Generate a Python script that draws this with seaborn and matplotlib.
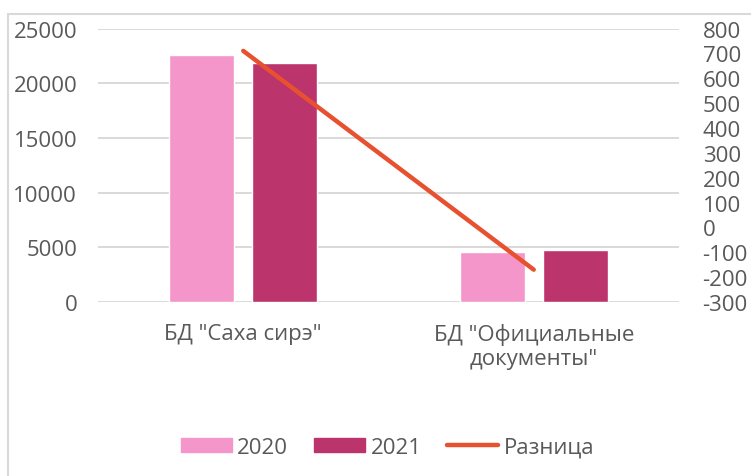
import numpy as np
import pandas as pd
import matplotlib
matplotlib.use('Agg')
import matplotlib.pyplot as plt
from matplotlib.lines import Line2D
from matplotlib.patches import Rectangle
import seaborn as sns

# ── Data ──────────────────────────────────────
categories = ['БД "Саха сирэ"', 'БД "Официальные\nдокументы"']
years      = ['2020', '2021']
values_2020 = [22600, 4580]
values_2021 = [21890, 4750]
diff        = [710, -170]
diff_label  = 'Разница'

left_ticks  = [0, 5000, 10000, 15000, 20000, 25000]
right_ticks = list(range(-300, 801, 100))

# ── Style ─────────────────────────────────────
COLORS = {'2020': '#F496C9', '2021': '#BB346C'}
LINE_COLOR = '#E8512F'
TEXT_COLOR = '#595959'
GRID_COLOR = '#D9D9D9'

sns.set_theme(style='white')
plt.rcParams['font.family'] = ['Open Sans', 'DejaVu Sans']
plt.rcParams['axes.unicode_minus'] = False
plt.rcParams['text.color'] = TEXT_COLOR
plt.rcParams['axes.labelcolor'] = TEXT_COLOR
plt.rcParams['xtick.color'] = TEXT_COLOR
plt.rcParams['ytick.color'] = TEXT_COLOR

df = pd.DataFrame({
    'category': categories * 2,
    'year': [years[0]] * len(categories) + [years[1]] * len(categories),
    'value': values_2020 + values_2021,
})

fig = plt.figure(figsize=(7.51, 4.77), dpi=100)
ax = fig.add_axes([98 / 751, 1 - 303 / 477, 581 / 751, (303 - 29.5) / 477])

sns.barplot(data=df, x='category', y='value', hue='year', order=categories,
            hue_order=years, palette=COLORS, width=0.573, gap=0.222,
            saturation=1, ax=ax, legend=False)

ax.set_ylim(0, 25000)
ax.set_xlim(-0.5, len(categories) - 0.5)
ax.set_yticks(left_ticks)
ax.yaxis.grid(True, color=GRID_COLOR, linewidth=1.4)
ax.set_axisbelow(True)
ax.set_xlabel('')
ax.set_ylabel('')
ax.tick_params(axis='y', length=0, pad=15, labelsize=16)
ax.tick_params(axis='x', length=0, pad=15, labelsize=16)
for s in ax.spines.values():
    s.set_visible(False)

# secondary axis — difference line
ax2 = ax.twinx()
sns.lineplot(x=np.arange(len(categories)), y=diff, ax=ax2, color=LINE_COLOR,
             linewidth=3.2, solid_capstyle='round')
ax2.set_ylim(-300, 800)
ax2.set_yticks(right_ticks)
ax2.tick_params(axis='y', length=0, pad=17, labelsize=16)
ax2.set_ylabel('')
ax2.grid(False)
for s in ax2.spines.values():
    s.set_visible(False)

# legend
handles = [Rectangle((0, 0), 1, 1, color=COLORS[y]) for y in years]
handles.append(Line2D([0], [0], color=LINE_COLOR, linewidth=3.2,
                      solid_capstyle='round'))
fig.legend(handles, years + [diff_label], loc='center', ncol=3,
           bbox_to_anchor=(0.516, 0.06), frameon=False, fontsize=16,
           handlelength=2.3, handleheight=0.6, handletextpad=0.25,
           columnspacing=1.15)

# chart border (top and left edges visible)
fig.add_artist(Line2D([8 / 751, 8 / 751], [0, 1 - 15 / 477],
                      transform=fig.transFigure, color=GRID_COLOR, linewidth=1.5))
fig.add_artist(Line2D([8 / 751, 1], [1 - 15 / 477, 1 - 15 / 477],
                      transform=fig.transFigure, color=GRID_COLOR, linewidth=1.5))

fig.savefig('out.png', dpi=100)
plt.close(fig)
